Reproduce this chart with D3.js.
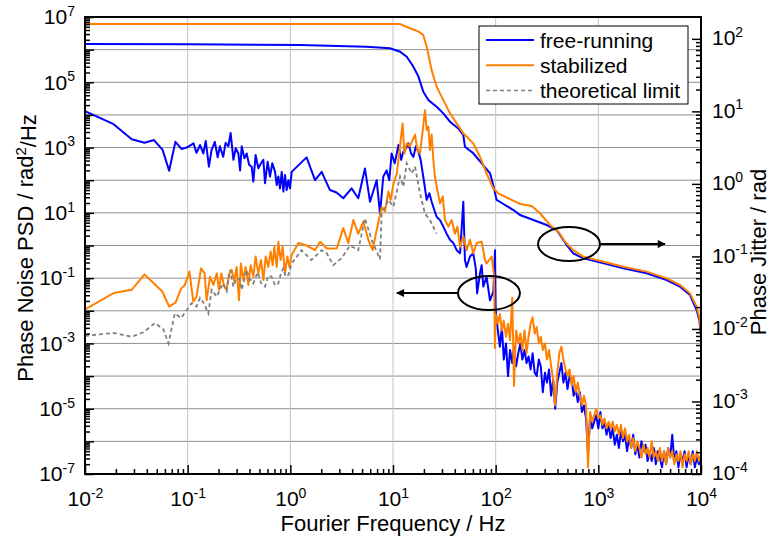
<!DOCTYPE html>
<html>
<head>
<meta charset="utf-8">
<script src="https://cdn.jsdelivr.net/npm/d3@7"></script>
<style>
  body { margin: 0; background: #fff; }
  text { font-family: "Liberation Sans", Arial, sans-serif; fill: #000; }
</style>
</head>
<body>
<svg id="chart" width="772" height="538"></svg>
<script>
// ---- data: [frequency Hz, value] ----
const freeRunningPsd = [
  [0.01, 1.3e4], [0.019, 5.2e3], [0.0285, 1.8e3], [0.038, 1.4e3], [0.047, 1.7e3], [0.057, 8.5e2],
  [0.066, 1.95e2], [0.076, 1.5e3], [0.087, 9.1e2], [0.098, 1.0e3], [0.114, 1.35e3], [0.122, 6.9e2],
  [0.132, 1.2e3], [0.142, 6.6e2], [0.150, 1.6e3], [0.161, 2.6e2], [0.171, 8.5e2], [0.184, 1.5e3],
  [0.196, 5.0e2], [0.206, 1.1e3], [0.222, 5.2e2], [0.234, 1.4e3], [0.249, 1.1e3], [0.262, 2.8e3],
  [0.279, 4.2e2], [0.294, 9.5e2], [0.312, 6.6e2], [0.324, 2.0e2], [0.336, 1.1e3], [0.357, 4.7e2],
  [0.376, 6.6e2], [0.396, 3.0e2], [0.420, 2.6e2], [0.436, 91], [0.459, 5.9e2], [0.488, 2.3e2],
  [0.518, 3.3e2], [0.546, 4.2e2], [0.567, 81], [0.601, 3.7e2], [0.634, 1.3e2], [0.668, 3.3e2],
  [0.710, 1.8e2], [0.737, 71], [0.764, 1.3e2], [0.793, 56], [0.824, 1.8e2], [0.855, 45],
  [0.887, 1.45e2], [0.921, 50], [0.957, 1.0e2], [0.993, 56], [1.03, 1.8e2], [1.44, 5.0e2],
  [1.74, 1.0e2], [2.02, 1.8e2], [2.43, 50], [2.82, 42], [3.28, 28], [3.95, 56], [4.59, 28],
  [5.33, 2.3e2], [5.97, 22], [6.93, 1.0e2], [7.47, 9.5], [8.05, 1.3e2], [8.67, 2.0e2], [9.2, 1.0e2],
  [9.7, 6.6e2], [10.4, 3.3e2], [11.3, 1.2e3], [12.0, 4.2e2], [12.6, 7.4e2], [13.4, 9.5e2],
  [14.1, 1.35e3], [15.0, 6.6e2], [15.8, 5.2e2], [16.7, 1.1e3], [17.7, 7.4e2], [18.6, 4.2e2],
  [19.7, 1.3e2], [21.3, 25], [22.6, 40], [23.8, 22], [25.3, 12], [26.6, 7.6], [28.7, 6.0],
  [30.9, 3.8], [33.3, 2.3], [35.9, 1.5], [38.7, 1.2], [41.7, 0.72], [45, 0.58], [48.4, 22],
  [50.2, 0.36], [52.1, 0.22], [56.2, 0.46], [60.5, 0.58], [64, 0.2], [66, 0.034], [70.3, 0.14],
  [73, 0.25], [75.8, 0.055], [81.6, 0.11], [88, 0.021], [95, 0.039], [98.5, 0.72],
  [100, 1.05e-2], [105, 2.5e-3], [110, 7.9e-4], [115, 3.2e-3], [120, 3.2e-4], [126, 1e-3],
  [132, 1e-4], [138, 6.3e-4], [145, 2.5e-4], [151, 7.9e-4], [158, 2.0e-4], [166, 5.0e-4],
  [174, 1e-3], [182, 3.2e-4], [191, 6.3e-4], [200, 2.5e-4], [209, 4.0e-4], [219, 1.6e-4],
  [229, 5.0e-4], [240, 1.26e-4], [251, 1e-4], [263, 3.2e-4], [275, 2.0e-4], [288, 3.2e-5],
  [302, 1.26e-4], [316, 6.3e-5], [331, 1.6e-4], [347, 2.5e-5], [363, 7.9e-5], [380, 1e-5],
  [398, 6.3e-5], [417, 1.26e-4], [437, 2.5e-4], [457, 6.3e-5], [479, 1.26e-4], [501, 4.0e-5],
  [525, 1e-4], [550, 7.9e-5], [575, 2.5e-5], [603, 4.0e-5], [631, 1.6e-5], [661, 3.2e-5],
  [692, 7.9e-6], [724, 1.26e-5], [759, 5.0e-6], [794, 4.0e-7], [832, 6.3e-6], [871, 2.5e-6],
  [912, 4.0e-6], [955, 6.3e-6], [1000, 2.5e-6], [1047, 7.9e-6], [1096, 2.5e-6], [1148, 4.0e-6],
  [1202, 1.6e-6], [1259, 3.2e-6], [1318, 1.26e-6], [1380, 2.5e-6], [1445, 7.9e-7], [1514, 1.6e-6],
  [1585, 6.3e-7], [1660, 2.0e-6], [1738, 1e-6], [1820, 1.6e-6], [1905, 5.0e-7], [1995, 1.26e-6],
  [2089, 6.3e-7], [2188, 1.6e-6], [2291, 4.0e-7], [2399, 7.9e-7], [2512, 3.2e-7], [2630, 1e-6],
  [2754, 5.0e-7], [2884, 7.9e-7], [3020, 2.5e-7], [3162, 5.0e-7], [3311, 2.5e-7], [3467, 6.3e-7],
  [3631, 2.0e-7], [3802, 5.0e-7], [3981, 3.2e-7], [4169, 1.6e-7], [4365, 5.0e-7], [4571, 2.0e-7],
  [4786, 6.3e-7], [5012, 3.2e-7], [5248, 1.6e-6], [5495, 2.5e-7], [5754, 5.0e-7], [6026, 1.6e-7],
  [6310, 4.0e-7], [6607, 2.5e-7], [6918, 5.0e-7], [7244, 1.6e-7], [7586, 4.0e-7], [7943, 2.0e-7],
  [8318, 5.0e-7], [8710, 1.6e-7], [9120, 3.2e-7], [9550, 2.0e-7], [10000, 3.2e-7]
];

const stabilizedPsd = [
  [0.01, 0.011], [0.019, 0.035], [0.0285, 0.044], [0.038, 0.13], [0.0566, 0.039], [0.066, 0.0135],
  [0.0764, 0.018], [0.086, 0.047], [0.094, 0.062], [0.104, 0.16], [0.1135, 0.019], [0.122, 0.027],
  [0.135, 0.2], [0.146, 0.14], [0.153, 0.021], [0.165, 0.11], [0.178, 0.062], [0.192, 0.14],
  [0.202, 0.044], [0.213, 0.14], [0.227, 0.055], [0.239, 0.044], [0.252, 0.126], [0.268, 0.18],
  [0.285, 0.078], [0.300, 0.22], [0.316, 0.021], [0.330, 0.28], [0.349, 0.087], [0.367, 0.22],
  [0.390, 0.062], [0.411, 0.25], [0.436, 0.11], [0.459, 0.46], [0.488, 0.14], [0.518, 0.36],
  [0.546, 0.087], [0.576, 0.46], [0.610, 0.22], [0.643, 0.65], [0.673, 0.25], [0.698, 0.91],
  [0.737, 0.22], [0.764, 1.3], [0.804, 0.36], [0.842, 0.91], [0.887, 0.14], [0.935, 0.46],
  [0.980, 0.22], [1.03, 0.51], [1.20, 1.2], [1.44, 1.0], [1.74, 0.72], [1.95, 1.3], [2.26, 0.81],
  [2.83, 0.81], [3.28, 3.4], [3.67, 1.2], [4.11, 6.0], [4.59, 2.3], [5.14, 5.4], [5.75, 1.5],
  [6.34, 0.72], [6.93, 3.0], [7.76, 15], [8.36, 11], [9.01, 45], [9.49, 25], [10.1, 79],
  [10.9, 1.6e2], [11.7, 1.1e3], [12.4, 5.5e3], [12.9, 6.6e2], [13.6, 1.35e3], [14.6, 1.1e3],
  [15.5, 1.7e3], [16.4, 2.5e3], [17.3, 8.5e2], [18.3, 6.6e2], [19.5, 3.5e3], [20.5, 1.4e4],
  [21.3, 3.5e3], [22.1, 4.4e3], [22.9, 8.5e2], [23.8, 2.5e3], [24.7, 4.2e2], [25.6, 1.3e2],
  [27.0, 50], [28.7, 19.5], [30.5, 32], [32.1, 6.0], [34.6, 3.8], [37.3, 6.0], [40.2, 2.3],
  [42.4, 3.8], [45.0, 0.91], [48.4, 1.9], [52.2, 0.72], [56.2, 1.5], [60.5, 0.58], [65.3, 1.2],
  [73.1, 1.3], [78.7, 0.36], [81.6, 0.28], [91.4, 0.46], [96.3, 0.126], [98.5, 7.1e-4],
  [100, 7.9e-3], [105, 4.0e-3], [110, 7.9e-3], [115, 2.5e-3], [120, 5.0e-3], [126, 1.6e-3],
  [132, 4.0e-3], [138, 1.26e-3], [145, 2.5e-2], [151, 5.0e-5], [158, 2.5e-3], [166, 1e-3],
  [174, 2.0e-3], [182, 6.3e-4], [191, 2.5e-3], [200, 5.0e-4], [209, 1.6e-3], [219, 4.0e-3],
  [229, 6.3e-3], [240, 2.0e-3], [251, 3.2e-3], [263, 1e-3], [275, 1.6e-3], [288, 6.3e-4],
  [302, 1e-3], [316, 3.2e-4], [331, 6.3e-4], [347, 2.0e-4], [363, 7.9e-5], [380, 1.26e-5],
  [398, 1.26e-4], [417, 5.0e-4], [437, 7.9e-4], [457, 3.2e-4], [479, 1.6e-4], [501, 1e-4],
  [525, 1.6e-4], [550, 5.0e-5], [575, 1e-4], [603, 3.2e-5], [631, 6.3e-5], [661, 2.5e-5],
  [692, 1.26e-5], [724, 2.5e-5], [759, 1.26e-5], [794, 1.6e-7], [832, 7.9e-6], [871, 4.0e-6],
  [912, 6.3e-6], [955, 1e-5], [1000, 5.0e-6], [1047, 6.3e-6], [1096, 3.2e-6], [1148, 5.0e-6],
  [1202, 2.5e-6], [1259, 4.0e-6], [1318, 2.5e-6], [1380, 4.0e-6], [1445, 2.0e-6], [1514, 3.2e-6],
  [1585, 1.6e-6], [1660, 3.2e-6], [1738, 1.26e-6], [1820, 2.5e-6], [1905, 1e-6], [1995, 1.6e-6],
  [2089, 6.3e-7], [2188, 1.26e-6], [2291, 5.0e-7], [2399, 1e-6], [2512, 6.3e-7], [2630, 3.2e-7],
  [2754, 7.9e-7], [2884, 4.0e-7], [3020, 6.3e-7], [3162, 3.2e-7], [3311, 1e-6], [3467, 3.2e-7],
  [3631, 5.0e-7], [3802, 2.5e-7], [3981, 6.3e-7], [4169, 2.5e-7], [4365, 5.0e-7], [4571, 2.0e-7],
  [4786, 6.3e-7], [5012, 3.2e-7], [5248, 5.0e-7], [5495, 2.0e-7], [5754, 4.0e-7], [6026, 2.5e-7],
  [6310, 5.0e-7], [6607, 1.6e-7], [6918, 4.0e-7], [7244, 2.5e-7], [7586, 5.0e-7], [7943, 2.0e-7],
  [8318, 4.0e-7], [8710, 2.5e-7], [9120, 5.0e-7], [9550, 2.5e-7], [10000, 4.0e-7]
];

const theoreticalPsd = [
  [0.01, 1.7e-3], [0.019, 2.1e-3], [0.0285, 1.6e-3], [0.037, 2.2e-3], [0.048, 4.2e-3],
  [0.058, 2.7e-3], [0.065, 1.0e-3], [0.075, 8.3e-3], [0.086, 6e-3], [0.098, 1.05e-2],
  [0.109, 1.7e-2], [0.122, 1.35e-2], [0.132, 2.5e-2], [0.142, 1.8e-2], [0.159, 8.3e-3],
  [0.171, 4.4e-2], [0.192, 2.7e-2], [0.21, 5e-2], [0.222, 6.9e-2], [0.24, 4e-2], [0.258, 0.18],
  [0.279, 0.055], [0.30, 0.1], [0.324, 0.087], [0.336, 0.044], [0.376, 0.18], [0.40, 0.09],
  [0.42, 0.087], [0.436, 0.069], [0.48, 0.15], [0.52, 0.07], [0.567, 0.055], [0.61, 0.12],
  [0.658, 0.11], [0.71, 0.06], [0.764, 0.069], [0.81, 0.14], [0.855, 0.2], [0.9, 0.11],
  [0.957, 0.126], [1.03, 0.28], [1.28, 0.72], [1.6, 0.36], [2.02, 0.72], [2.26, 0.58],
  [2.62, 0.25], [3.16, 0.41], [3.81, 1.0], [4.59, 0.72], [5.33, 6.8], [6.19, 1.5], [7.47, 0.38],
  [7.76, 9.5], [9.01, 25], [10.1, 15.5], [11.7, 1.3e2], [12.6, 63], [13.6, 3.3e2], [15.2, 1.6e2],
  [16.4, 2.6e2], [18.3, 40], [20.5, 9.5], [22.9, 6.0], [26.6, 2.3]
];

const freeRunningJitter = [
  [0.01, 85], [0.1, 84], [1.24, 82], [5.5, 78], [9.35, 74], [11.7, 66.5], [13.6, 56.8],
  [15.8, 41.3], [17.7, 30.1], [19.7, 18.7], [22.1, 14.3], [26.6, 11.6], [30.9, 9.4], [35.9, 7.2],
  [43.3, 5.8], [48.4, 4.7], [50.2, 3.26], [60.5, 2.64], [73.1, 1.92], [88.1, 1.40], [95, 0.95],
  [102, 0.60], [119, 0.528], [149, 0.436], [173, 0.372], [233, 0.318], [314, 0.271], [393, 0.231],
  [491, 0.144], [570, 0.110], [714, 0.094], [963, 0.0847], [1752, 0.0686], [2957, 0.0585],
  [4630, 0.0473], [6243, 0.0383], [7811, 0.0294], [9071, 0.0182], [9640, 0.013], [10000, 0.008]
];

const stabilizedJitter = [
  [0.01, 160], [11.7, 160], [14.6, 140], [17.7, 126], [19.7, 113], [21.3, 78], [23.8, 37],
  [26.6, 21.9], [30.9, 14.3], [35.9, 9.4], [41.7, 6.84], [48.4, 4.98], [60.5, 3.62], [70.3, 2.37],
  [81.6, 1.40], [94.8, 0.869], [106, 0.741], [143, 0.600], [173, 0.528], [224, 0.496],
  [270, 0.393], [338, 0.271], [408, 0.219], [473, 0.160], [570, 0.122], [714, 0.0993],
  [963, 0.0893], [1752, 0.0722], [2957, 0.0617], [4630, 0.0499], [6243, 0.0404], [7811, 0.0310],
  [9071, 0.0203], [9640, 0.0145], [10000, 0.009]
];

// tick values
const xTickValues = [1e-2, 1e-1, 1, 1e1, 1e2, 1e3, 1e4];
const leftTickValues = [1e-7, 1e-6, 1e-5, 1e-4, 1e-3, 1e-2, 1e-1, 1, 1e1, 1e2, 1e3, 1e4, 1e5, 1e6, 1e7];
const leftLabelExps = [-7, -5, -3, -1, 1, 3, 5, 7];
const rightTickValues = [1e-4, 1e-3, 1e-2, 1e-1, 1, 1e1, 1e2];

// annotations: ellipse centre (freq, value, axis), arrow from -> to (freq)
const annotations = [
  { f: 518, v: 0.148, axis: "right", from: 1062, to: 4457 },
  { f: 86, v: 0.035, axis: "left", from: 44, to: 10.9 }
];

// ---- layout ----
const plotLeft = 85, plotRight = 701, plotTop = 17, plotBottom = 474;
const svg = d3.select("#chart");

const x = d3.scaleLog().domain([1e-2, 1e4]).range([plotLeft, plotRight]);
const yL = d3.scaleLog().domain([1e-7, 1e7]).range([plotBottom, plotTop]);
const yR = d3.scaleLog().domain([1e-4, 200]).range([plotBottom, plotTop]);

function minorTicks(scale) {
  const [a, b] = scale.domain();
  const out = [];
  for (let e = Math.floor(Math.log10(a)); e <= Math.ceil(Math.log10(b)); e++) {
    for (let m = 2; m <= 9; m++) {
      const v = m * Math.pow(10, e);
      if (v > a && v < b) out.push(v);
    }
  }
  return out;
}

// grid
svg.append("g").selectAll("line")
  .data(leftTickValues.slice(1, -1))
  .join("line")
  .attr("x1", plotLeft).attr("x2", plotRight)
  .attr("y1", d => yL(d)).attr("y2", d => yL(d))
  .attr("stroke", "#8e8e8e").attr("stroke-width", 1);

svg.append("g").selectAll("line")
  .data(xTickValues.slice(1, -1))
  .join("line")
  .attr("x1", d => x(d)).attr("x2", d => x(d))
  .attr("y1", plotTop).attr("y2", plotBottom)
  .attr("stroke", "#c4c4c4").attr("stroke-width", 1);

// clip
svg.append("clipPath").attr("id", "plotClip")
  .append("rect").attr("x", plotLeft).attr("y", plotTop)
  .attr("width", plotRight - plotLeft).attr("height", plotBottom - plotTop);

const plot = svg.append("g").attr("clip-path", "url(#plotClip)");

const lineL = d3.line().x(d => x(d[0])).y(d => yL(d[1]));
const lineR = d3.line().x(d => x(d[0])).y(d => yR(d[1]));

plot.append("path").datum(freeRunningPsd).attr("d", lineL)
  .attr("fill", "none").attr("stroke", "#0000ff").attr("stroke-width", 2).attr("stroke-linejoin", "round");
plot.append("path").datum(stabilizedPsd).attr("d", lineL)
  .attr("fill", "none").attr("stroke", "#ff8000").attr("stroke-width", 2).attr("stroke-linejoin", "round");
plot.append("path").datum(theoreticalPsd).attr("d", lineL)
  .attr("fill", "none").attr("stroke", "#808080").attr("stroke-width", 1.8).attr("stroke-dasharray", "4,3");
plot.append("path").datum(freeRunningJitter).attr("d", lineR)
  .attr("fill", "none").attr("stroke", "#0000ff").attr("stroke-width", 2);
plot.append("path").datum(stabilizedJitter).attr("d", lineR)
  .attr("fill", "none").attr("stroke", "#ff8000").attr("stroke-width", 2);

// annotations
svg.append("defs").append("marker")
  .attr("id", "arrowHead").attr("viewBox", "0 0 10 10")
  .attr("refX", 9).attr("refY", 5)
  .attr("markerWidth", 6).attr("markerHeight", 4).attr("markerUnits", "strokeWidth")
  .attr("orient", "auto")
  .append("path").attr("d", "M0,0 L10,5 L0,10 z").attr("fill", "#000");

annotations.forEach(a => {
  const cy = a.axis === "right" ? yR(a.v) : yL(a.v);
  svg.append("ellipse")
    .attr("cx", x(a.f)).attr("cy", cy).attr("rx", 31).attr("ry", 17)
    .attr("fill", "none").attr("stroke", "#000").attr("stroke-width", 2);
  svg.append("line")
    .attr("x1", x(a.from)).attr("x2", x(a.to)).attr("y1", cy).attr("y2", cy)
    .attr("stroke", "#000").attr("stroke-width", 2).attr("marker-end", "url(#arrowHead)");
});

// frame
svg.append("rect").attr("x", plotLeft).attr("y", plotTop)
  .attr("width", plotRight - plotLeft).attr("height", plotBottom - plotTop)
  .attr("fill", "none").attr("stroke", "#000").attr("stroke-width", 2);

// axes
function powerLabels(g) {
  g.selectAll(".tick text").each(function () {
    const t = d3.select(this);
    const exp = t.text();
    if (exp === "") return;
    t.text(null);
    t.append("tspan").text("10");
    t.append("tspan").attr("dy", "-0.6em").attr("font-size", 14).text(exp);
  });
}
function styleAxis(g) {
  g.select(".domain").remove();
  g.selectAll(".tick line").attr("stroke", "#000").attr("stroke-width", 1.5);
  g.selectAll(".tick text").attr("font-size", 21).attr("font-family", "Liberation Sans, Arial, sans-serif").attr("fill", "#000");
}
const expOf = d => Math.round(Math.log10(d));

const gx = svg.append("g").attr("transform", `translate(0,${plotBottom})`)
  .call(d3.axisBottom(x).tickValues(xTickValues).tickSize(-9).tickPadding(17)
    .tickFormat(d => String(expOf(d))));
styleAxis(gx); powerLabels(gx);
svg.append("g").attr("transform", `translate(0,${plotBottom})`)
  .call(d3.axisBottom(x).tickValues(minorTicks(x)).tickSize(-5).tickFormat(""))
  .call(styleAxis);

const gl = svg.append("g").attr("transform", `translate(${plotLeft},0)`)
  .call(d3.axisLeft(yL).tickValues(leftTickValues).tickSize(-9).tickPadding(10)
    .tickFormat(d => leftLabelExps.includes(expOf(d)) ? String(expOf(d)) : ""));
styleAxis(gl); powerLabels(gl);
svg.append("g").attr("transform", `translate(${plotLeft},0)`)
  .call(d3.axisLeft(yL).tickValues(minorTicks(yL)).tickSize(-5).tickFormat(""))
  .call(styleAxis);

const gr = svg.append("g").attr("transform", `translate(${plotRight},0)`)
  .call(d3.axisRight(yR).tickValues(rightTickValues).tickSize(-9).tickPadding(11)
    .tickFormat(d => String(expOf(d))));
styleAxis(gr); powerLabels(gr);
gr.selectAll(".tick text").attr("dy", "0.28em");
svg.append("g").attr("transform", `translate(${plotRight},0)`)
  .call(d3.axisRight(yR).tickValues(minorTicks(yR)).tickSize(-5).tickFormat(""))
  .call(styleAxis);

// axis titles
svg.append("text").attr("x", (plotLeft + plotRight) / 2).attr("y", 531)
  .attr("text-anchor", "middle").attr("font-size", 22).text("Fourier Frequency / Hz");

const yTitle = svg.append("text").attr("transform", "translate(33,248) rotate(-90)")
  .attr("text-anchor", "middle").attr("font-size", 22);
yTitle.append("tspan").text("Phase Noise PSD / rad");
yTitle.append("tspan").attr("dy", "-0.45em").attr("font-size", 15).text("2");
yTitle.append("tspan").attr("dy", "0.45em").text("/Hz");

svg.append("text").attr("transform", "translate(766,252) rotate(-90)")
  .attr("text-anchor", "middle").attr("font-size", 22).text("Phase Jitter / rad");

// legend
const legendItems = [
  { label: "free-running", color: "#0000ff", dash: null },
  { label: "stabilized", color: "#ff8000", dash: null },
  { label: "theoretical limit", color: "#808080", dash: "4,3" }
];
const legend = svg.append("g").attr("transform", "translate(479,26)");
legend.append("rect").attr("width", 209).attr("height", 78)
  .attr("fill", "#fff").attr("stroke", "#000").attr("stroke-width", 1);
legendItems.forEach((it, i) => {
  const yy = 14 + i * 25.3;
  legend.append("line").attr("x1", 7).attr("x2", 55).attr("y1", yy).attr("y2", yy)
    .attr("stroke", it.color).attr("stroke-width", it.dash ? 1.5 : 2)
    .attr("stroke-dasharray", it.dash);
  legend.append("text").attr("x", 61).attr("y", yy).attr("dy", "0.36em")
    .attr("font-size", 21).text(it.label);
});
</script>
</body>
</html>
